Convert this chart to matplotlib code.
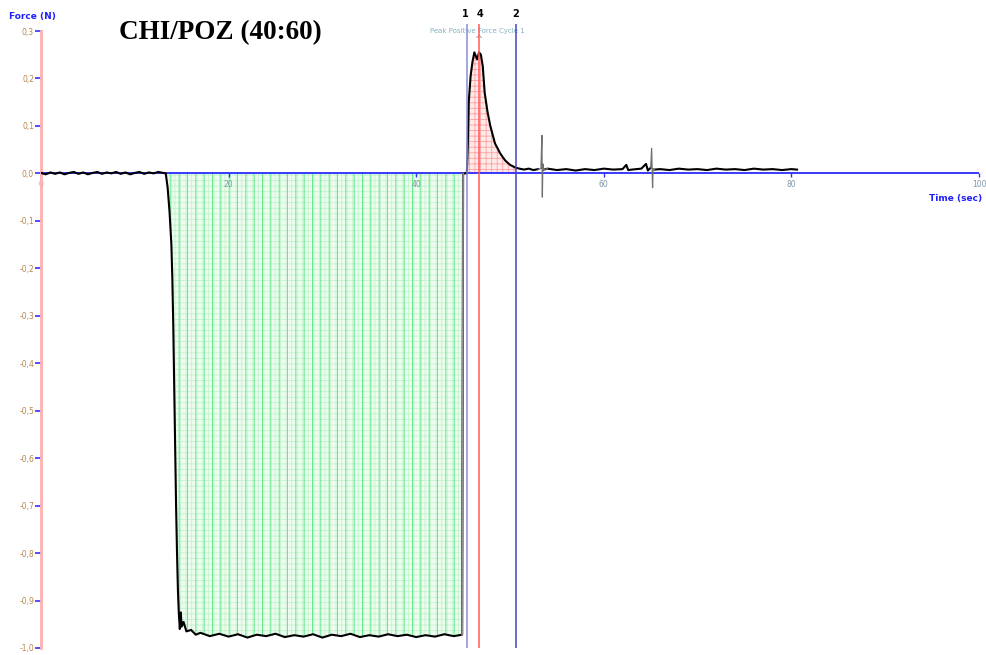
import numpy as np
import matplotlib.pyplot as plt

plt.rcParams['font.family'] = ['DejaVu Sans']
plt.rcParams['hatch.linewidth'] = 0.6

# 数据
time_s = [0.0, 0.5, 1.0, 1.5, 2.0, 2.5, 3.0, 3.5, 4.0, 4.5, 5.0, 5.5, 6.0, 6.5, 7.0, 7.5,
          8.0, 8.5, 9.0, 9.5, 10.0, 10.5, 11.0, 11.5, 12.0, 12.5, 13.0, 13.3,
          13.5, 13.7, 13.9, 14.0, 14.1, 14.2, 14.3, 14.4, 14.5, 14.6, 14.7, 14.8, 14.9,
          15.0, 15.2, 15.5, 16.0, 16.5, 17.0, 18.0, 19.0, 20.0, 21.0, 22.0, 23.0, 24.0,
          25.0, 26.0, 27.0, 28.0, 29.0, 30.0, 31.0, 32.0, 33.0, 34.0, 35.0, 36.0, 37.0,
          38.0, 39.0, 40.0, 41.0, 42.0, 43.0, 44.0, 44.9, 45.0,
          45.4, 45.5, 45.6, 45.8, 46.0, 46.2, 46.4, 46.5, 46.7, 46.9, 47.1, 47.3, 47.6,
          47.9, 48.2, 48.4, 48.7, 48.9, 49.2, 49.5, 50.0, 50.6, 51.0, 51.5, 52.0, 52.5,
          53.0, 53.3, 53.4, 53.45, 53.5, 53.6, 54.0, 55.0, 56.0, 57.0, 58.0, 59.0, 60.0,
          61.0, 62.0, 62.4, 62.6, 63.0, 64.0, 64.5, 64.7, 65.0, 65.1, 65.2, 65.25, 65.4,
          66.0, 67.0, 68.0, 69.0, 70.0, 71.0, 72.0, 73.0, 74.0, 75.0, 76.0, 77.0, 78.0,
          79.0, 80.0, 80.6]
force_n = [0.001, -0.002, 0.002, -0.001, 0.002, -0.002, 0.001, 0.003, -0.001, 0.002,
           -0.002, 0.001, 0.003, -0.001, 0.002, 0.000, 0.003, -0.001, 0.002, -0.002,
           0.001, 0.003, -0.001, 0.002, 0.000, 0.003, 0.001, 0.000,
           -0.03, -0.08, -0.15, -0.22, -0.32, -0.45, -0.58, -0.70, -0.80, -0.88, -0.93,
           -0.96, -0.925, -0.955, -0.945, -0.965, -0.962, -0.972, -0.968, -0.975, -0.970,
           -0.976, -0.971, -0.978, -0.972, -0.975, -0.970, -0.977, -0.973, -0.976, -0.971,
           -0.978, -0.972, -0.975, -0.970, -0.977, -0.973, -0.976, -0.971, -0.975, -0.972,
           -0.977, -0.973, -0.976, -0.971, -0.975, -0.972, 0.0,
           0.0, 0.06, 0.15, 0.205, 0.235, 0.255, 0.245, 0.24, 0.255, 0.25, 0.225, 0.17,
           0.13, 0.10, 0.078, 0.063, 0.052, 0.044, 0.035, 0.027, 0.018, 0.012, 0.010,
           0.008, 0.010, 0.007, 0.009, 0.010, 0.08, -0.05, 0.02, 0.008, 0.010, 0.007,
           0.009, 0.006, 0.009, 0.007, 0.010, 0.008, 0.009, 0.018, 0.007, 0.008, 0.010,
           0.020, 0.006, 0.012, 0.053, -0.03, 0.010, 0.008, 0.009, 0.007, 0.010, 0.008,
           0.009, 0.007, 0.010, 0.008, 0.009, 0.007, 0.010, 0.008, 0.009, 0.007, 0.009,
           0.008]

t = np.array(time_s)
f = np.array(force_n)

# 光标位置
cursor_pos = [45.4, 46.7, 50.6]
cursor_labels = ['1', '4', '2']
cursor_colors = ['#8c8cd8', '#ff5a5a', '#4646b4']

fig = plt.figure(figsize=(9.87, 6.55), dpi=100)
ax = fig.add_axes([41 / 987, 7 / 655, (979 - 41) / 987, (648 - 31) / 655])
ax.set_xlim(0, 100)
ax.set_ylim(-1.0, 0.3)

# 负值区域（绿色）和正值区域（红色）填充
neg = (t >= 13.3) & (t <= 45.0)
ax.fill_between(t[neg], f[neg], 0, facecolor='#eefcf0', edgecolor='#c2f3ce',
                hatch='+++', linewidth=0, zorder=1)
ax.fill_between(t[neg], f[neg], 0, facecolor='none', edgecolor='#4ae67a',
                hatch='||', linewidth=0, zorder=1)
pos = (t >= 45.4) & (t <= 50.6)
ax.fill_between(t[pos], f[pos], 0, facecolor='#ffeaea', edgecolor='#ffa0a0',
                hatch='+++', linewidth=0, zorder=1)

# 曲线（尖峰用细灰线）
spike = ((t >= 53.3) & (t <= 53.5)) | ((t >= 65.1) & (t <= 65.25))
f_main = np.where(spike, np.nan, f)
ax.plot(t, f_main, color='black', lw=1.5, zorder=4)
for a, b in [(53.0, 54.0), (65.0, 65.4)]:
    m = (t >= a) & (t <= b)
    ax.plot(t[m], f[m], color='#707070', lw=0.9, zorder=4)
jump = (t >= 44.9) & (t <= 45.0)
ax.plot(t[jump], f[jump], color='#909090', lw=1.2, zorder=5)

# 零线
ax.axhline(0, color='#2a2aff', lw=1.3, zorder=3)

# 光标线
for x, lab, c in zip(cursor_pos, cursor_labels, cursor_colors):
    ax.vlines(x, -1.0, 0.315, color=c, lw=1.1, zorder=5, clip_on=False)
ax.text(45.4 - 0.2, 0.335, '1', ha='center', va='center', fontsize=7, fontweight='bold')
ax.text(46.7 + 0.1, 0.335, '4', ha='center', va='center', fontsize=7, fontweight='bold')
ax.text(50.6, 0.335, '2', ha='center', va='center', fontsize=7, fontweight='bold')
ax.text(46.5, 0.3, 'Peak Positive Force Cycle 1', ha='center', va='center',
        fontsize=5, color='#7fb3c4')
ax.text(46.7, 0.28, '^', ha='center', va='center', fontsize=7, color='#909090')

# 坐标轴样式
for s in ['top', 'right', 'bottom']:
    ax.spines[s].set_visible(False)
ax.spines['left'].set_color('#ffb0b0')
ax.spines['left'].set_linewidth(2)

yticks = np.round(np.arange(-1.0, 0.31, 0.1), 1)
ax.set_yticks(yticks)
ax.set_yticklabels([('%.1f' % abs(v) if abs(v) < 1e-9 else '%.1f' % v).replace('.', ',')
                    for v in yticks])
ax.tick_params(axis='y', colors='#3030ff', labelcolor='#b8864a', length=4, width=1.2,
               labelsize=5.5, pad=1)
ax.spines['bottom'].set_position(('data', 0))
ax.set_xticks([0, 20, 40, 60, 80, 100])
ax.tick_params(axis='x', colors='#3030ff', labelcolor='#7f96a6', length=3, width=1,
               labelsize=5.5, pad=2)

fig.text(9 / 987, 1 - 17 / 655, 'Force (N)', ha='left', va='center', fontsize=6.5,
         color='#2020ff', fontweight='bold')
ax.text(100.3, -0.053, 'Time (sec)', ha='right', va='center', fontsize=6.5,
        color='#2020ff', fontweight='bold')
fig.text(220 / 987, 1 - 33 / 655, 'CHI/POZ (40:60)', ha='center', va='center',
         fontsize=19.5, fontweight='bold', family='Liberation Serif')

plt.savefig('out.png', dpi=100)
